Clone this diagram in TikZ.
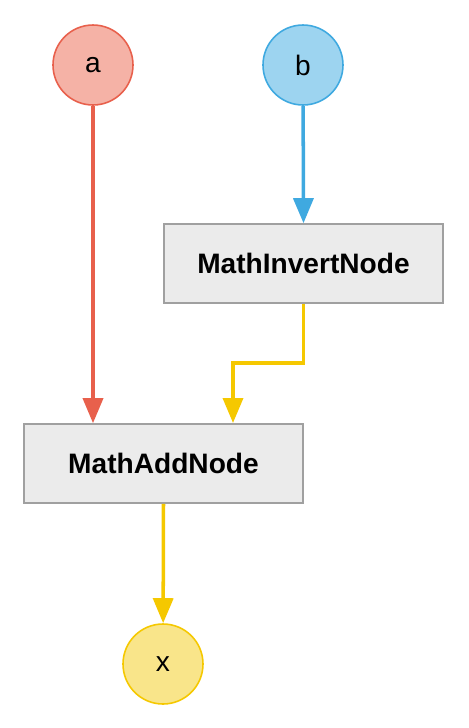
\documentclass[tikz,border=0pt]{standalone}
\usepackage{fontspec}
\setmainfont{Liberation Sans}
\usetikzlibrary{arrows.meta}

\definecolor{redline}{HTML}{E8604C}
\definecolor{redfill}{HTML}{F5B2A6}
\definecolor{blueline}{HTML}{3FA9E0}
\definecolor{bluefill}{HTML}{9DD4F0}
\definecolor{yellowline}{HTML}{F5C800}
\definecolor{yellowfill}{HTML}{F9E58A}
\definecolor{boxfill}{HTML}{EBEBEB}
\definecolor{boxline}{HTML}{A0A0A0}

\tikzset{
  socket/.style={circle, draw, line width=0.9pt, minimum size=80*0.02cm, inner sep=0pt, font=\fontsize{16}{18}\selectfont},
  mathbox/.style={draw=boxline, fill=boxfill, line width=0.9pt, minimum width=279*0.02cm, minimum height=79*0.02cm, inner sep=0pt, font=\fontsize{16}{18}\selectfont\bfseries},
  link/.style={line width=2pt, -{Triangle[length=25*0.02cm, width=20*0.02cm]}}
}

\begin{document}
\begin{tikzpicture}[x=0.02cm, y=-0.02cm]

\useasboundingbox (0,0) rectangle (468,728);

% inputs
\node[socket, draw=redline, fill=redfill] (a) at (93,65) {a};
\node[socket, draw=blueline, fill=bluefill] (b) at (303,65) {b};

% math nodes
\node[mathbox] (invert) at (303.5,263.5) {MathInvertNode};
\node[mathbox] (add) at (163.5,463.5) {MathAddNode};

% output
\node[socket, draw=yellowline, fill=yellowfill] (x) at (163,664) {x};

% connections
\coordinate (addin) at (233,423);
\draw[link, redline] (a) -- (a |- add.north);
\draw[link, blueline] (b) -- (invert.north);
\draw[link, yellowline] (invert.south) |- (268,363) -| (addin);
\draw[link, yellowline] (add.south) -- (x);

\end{tikzpicture}
\end{document}
